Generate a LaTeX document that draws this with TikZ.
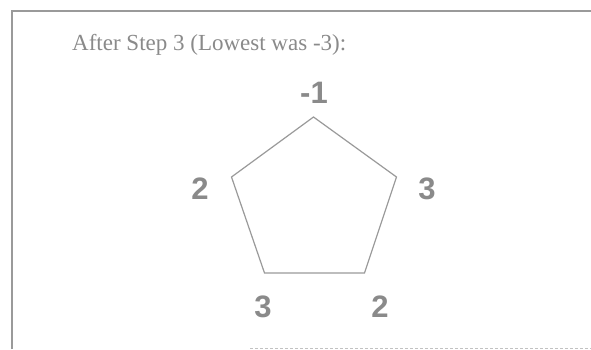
\documentclass[tikz,border=0pt]{standalone}
\usepackage{fontspec}
\setmainfont{Liberation Serif}
\newfontfamily\labelfont{Liberation Sans}
\definecolor{inkgray}{HTML}{8A8A8A}
\definecolor{linegray}{HTML}{9A9A9A}
\begin{document}
\begin{tikzpicture}[x=1pt,y=-1pt,
  frameline/.style={draw=linegray,line width=1.4pt},
  edge/.style={draw=linegray,line width=1.2pt,line join=miter},
  vlabel/.style={text=inkgray,font=\labelfont\bfseries\fontsize{31}{31}\selectfont,inner sep=0pt},
  titletext/.style={text=inkgray,font=\fontsize{23}{23}\selectfont,inner sep=0pt,anchor=base west}]
\useasboundingbox (0,0) rectangle (591,349);
\fill[white] (0,0) rectangle (591,349);
% frame
\coordinate (fbl) at (12,349);
\coordinate (ftl) at (12,11);
\coordinate (ftr) at (591,11);
\coordinate (fbs) at (250,348);
\coordinate (fbe) at (591,348);
\draw[frameline] (fbl) -- (ftl) -- (ftr);
\draw[draw=linegray!60,line width=1pt,dash pattern=on 3pt off 2pt] (fbs) -- (fbe);
% title
\node[titletext] (title) at (72,50) {After Step 3 (Lowest was -3):};
% pentagon vertices
\coordinate (vt) at (313.5,117);
\coordinate (vur) at (396.5,177);
\coordinate (vlr) at (364.5,273);
\coordinate (vll) at (264.5,273);
\coordinate (vul) at (231.5,177);
\draw[edge] (vt) -- (vur) -- (vlr) -- (vll) -- (vul) -- cycle;
% labels
\node[vlabel] (lt) at (314,93) {-1};
\node[vlabel] (lul) at (200,189) {2};
\node[vlabel] (lur) at (427,189) {3};
\node[vlabel] (lll) at (263,307) {3};
\node[vlabel] (llr) at (380,307) {2};
\end{tikzpicture}
\end{document}
